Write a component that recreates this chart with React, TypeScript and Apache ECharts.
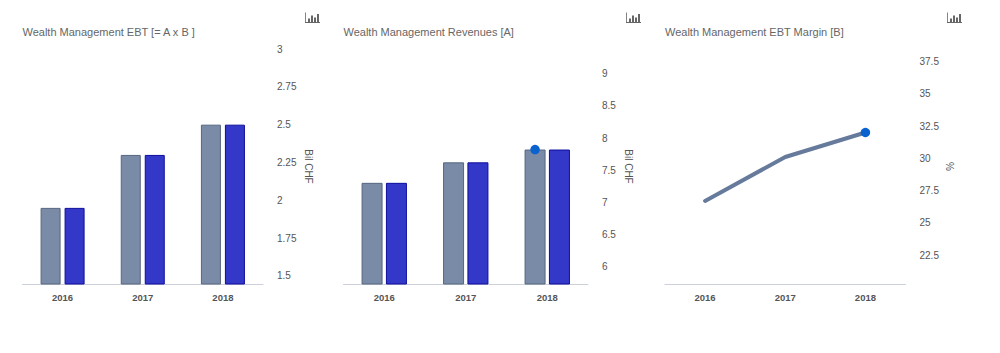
import React, { useEffect, useRef } from "react";
import * as echarts from "echarts";

const years = ["2016", "2017", "2018"];
const ebtValues = [1.95, 2.3, 2.5];
const revenueValues = [7.3, 7.62, 7.82];
const marginValues = [26.7, 30.1, 32.0];
const ebtTicks = [1.5, 1.75, 2, 2.25, 2.5, 2.75, 3];
const revenueTicks = [6, 6.5, 7, 7.5, 8, 8.5, 9];
const marginTicks = [22.5, 25, 27.5, 30, 32.5, 35, 37.5];
const titles = [
  "Wealth Management EBT [= A x B ]",
  "Wealth Management Revenues [A]",
  "Wealth Management EBT Margin [B]",
];

const FONT = "'Liberation Sans', Arial, sans-serif";
const ICON =
  "M0 0H0.8V9.6H15V10.4H0Z M3 6H5V9.6H3Z M6 3H8V9.6H6Z M9 5H11V9.6H9Z M12 1.5H14V9.6H12Z";
echarts.graphic.registerShape("chartIcon", echarts.graphic.extendPath(ICON, {}) as any);

const GRIDS = [
  { left: 22.5, width: 240.5 },
  { left: 343.5, width: 244.5 },
  { left: 665, width: 240.5 },
];
const TOP = 49;
const BOTTOM_Y = 284;
const GRAY = "#7a8ba8";
const GRAY_EDGE = "#56667f";
const BLUE = "#3438c8";
const BLUE_EDGE = "#0d0d9c";
const DOT = "#0a62cf";
const DOT_SIZE = 9.5;

function yAxis(i: number, min: number, max: number, ticks: number[], name: string, gap: number) {
  return {
    type: "value",
    gridIndex: i,
    position: "right",
    min,
    max,
    name,
    nameLocation: "middle",
    nameGap: gap,
    nameRotate: -90,
    nameTextStyle: { color: "#555", fontSize: 10, fontFamily: FONT },
    axisLine: { show: false },
    axisTick: { show: false },
    splitLine: { show: false },
    axisLabel: {
      customValues: ticks,
      margin: 14,
      color: "#555",
      fontSize: 10,
      fontFamily: FONT,
      formatter: (v: number) => String(v),
    },
  };
}

function barPair(i: number, values: number[], width: number, gap: string, dot: boolean) {
  return [
    {
      type: "bar",
      xAxisIndex: i,
      yAxisIndex: i,
      data: values,
      barWidth: width,
      barGap: gap,
      itemStyle: { color: GRAY, borderColor: GRAY_EDGE, borderWidth: 1 },
      ...(dot
        ? {
            markPoint: {
              data: [{ type: "max" }],
              symbol: "circle",
              symbolSize: DOT_SIZE,
              label: { show: false },
              itemStyle: { color: DOT },
            },
          }
        : {}),
    },
    {
      type: "bar",
      xAxisIndex: i,
      yAxisIndex: i,
      data: values,
      barWidth: width,
      barGap: gap,
      itemStyle: { color: BLUE, borderColor: BLUE_EDGE, borderWidth: 1 },
    },
  ];
}

export default function App() {
  const ref = useRef<HTMLDivElement>(null);
  useEffect(() => {
    if (!ref.current) return;
    const chart = echarts.init(ref.current, undefined, { renderer: "svg" });
    chart.setOption({
      animation: false,
      backgroundColor: "#fff",
      title: titles.map((text, i) => ({
        text,
        left: GRIDS[i].left,
        top: 26,
        padding: 0,
        textStyle: { color: "#666", fontSize: 11, fontWeight: "normal", fontFamily: FONT },
      })),
      grid: GRIDS.map((g) => ({
        left: g.left,
        width: g.width,
        top: TOP,
        height: BOTTOM_Y - TOP,
        containLabel: false,
      })),
      xAxis: GRIDS.map((_, i) => ({
        type: "category",
        gridIndex: i,
        data: years,
        axisLine: { lineStyle: { color: "#ccd0d8", width: 1 } },
        axisTick: { show: false },
        axisLabel: {
          margin: 8,
          color: "#555",
          fontSize: 9.5,
          fontWeight: "bold",
          fontFamily: FONT,
        },
      })),
      yAxis: [
        yAxis(0, 1.447, 3, ebtTicks, "Bil CHF", 40),
        yAxis(1, 5.72, 9.39, revenueTicks, "Bil CHF", 35),
        yAxis(2, 20.26, 38.47, marginTicks, "%", 39),
      ],
      series: [
        ...barPair(0, ebtValues, 20, "20%", false),
        ...barPair(1, revenueValues, 21, "16%", true),
        {
          type: "line",
          xAxisIndex: 2,
          yAxisIndex: 2,
          data: marginValues,
          showSymbol: false,
          lineStyle: { color: "#667a9c", width: 4, cap: "round", join: "round" },
          markPoint: {
            data: [{ type: "max" }],
            symbol: "circle",
            symbolSize: DOT_SIZE,
            label: { show: false },
            itemStyle: { color: DOT },
          },
        },
      ],
      graphic: [305, 626, 947].map((x) => ({
        type: "chartIcon",
        x,
        y: 12.5,
        silent: true,
        style: { fill: "#666" },
      })),
    });
    return () => chart.dispose();
  }, []);
  return (
    <div
      ref={ref}
      style={{ position: "absolute", left: 0, top: 0, width: 1000, height: 353 }}
    />
  );
}
